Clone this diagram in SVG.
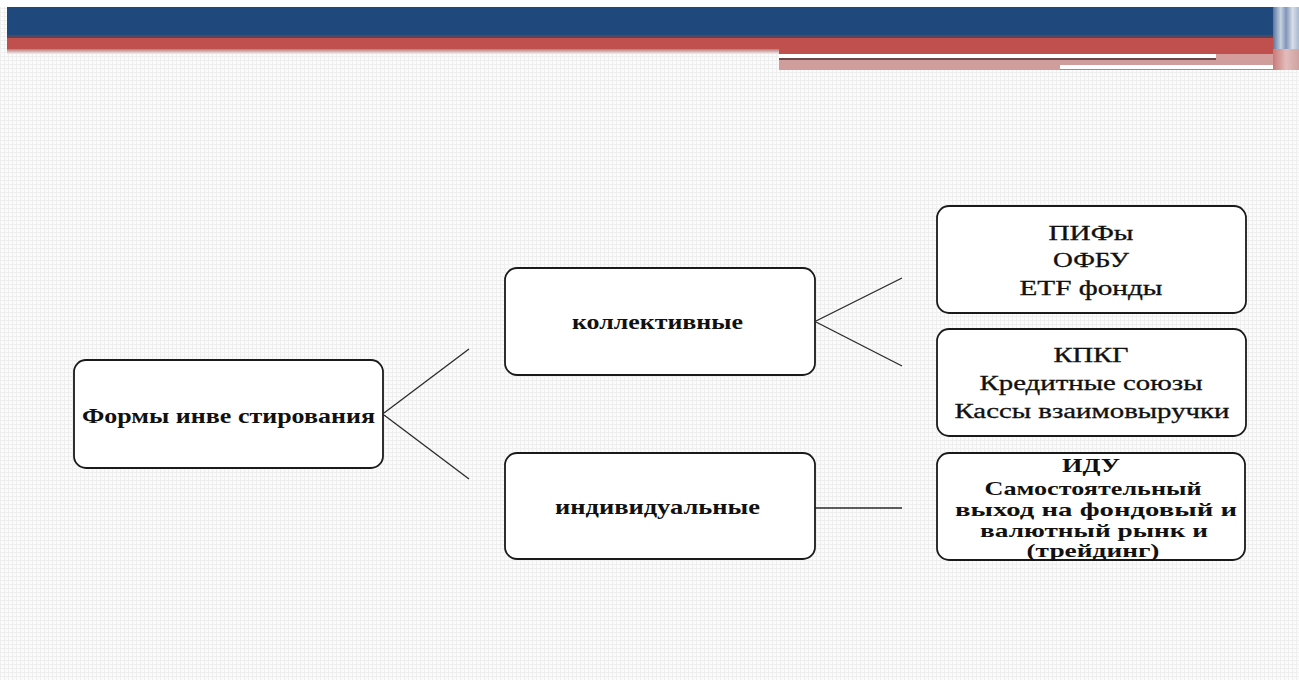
<svg xmlns="http://www.w3.org/2000/svg" width="1299" height="680" viewBox="0 0 1299 680">
<defs>
<pattern id="grid" width="4" height="4" patternUnits="userSpaceOnUse">
<rect width="4" height="4" fill="#fbfbfb"/>
<path d="M0 0.5H4M0.5 0V4" stroke="#efefef" stroke-width="1"/>
</pattern>
<linearGradient id="fade" x1="0" y1="0" x2="0" y2="1">
<stop offset="0" stop-color="#b77a7a"/>
<stop offset="1" stop-color="#f4eeee"/>
</linearGradient>
<linearGradient id="edge" x1="0" y1="0" x2="1" y2="0">
<stop offset="0" stop-color="#5a76a0"/>
<stop offset="0.3" stop-color="#c8d2e2"/>
<stop offset="0.5" stop-color="#7f95b8"/>
<stop offset="0.75" stop-color="#d6dde8"/>
<stop offset="1" stop-color="#a9b8cf"/>
</linearGradient>
<linearGradient id="edgeR" x1="0" y1="0" x2="1" y2="0">
<stop offset="0" stop-color="#c77a78"/>
<stop offset="0.5" stop-color="#e2bcbb"/>
<stop offset="1" stop-color="#cfa2a1"/>
</linearGradient>
</defs>
<style>
.box{fill:#ffffff;stroke:#1a1a1a;stroke-width:1.8}
.conn{stroke:#2a2a2a;stroke-width:1.3;fill:none}
.t{font-family:"Liberation Serif","Times New Roman",serif;fill:#111;text-anchor:middle}
.b{font-weight:bold;font-size:21px}
.r{font-size:20px;stroke:#111;stroke-width:0.3}
.s{font-weight:bold;font-size:19px}
</style>
<rect width="1299" height="680" fill="url(#grid)"/>
<g id="header">
<rect x="0" y="0" width="1299" height="7" fill="#ffffff"/>
<rect x="7" y="7" width="1266" height="29" fill="#1f497d"/>
<rect x="7" y="35" width="1266" height="3" fill="#5a4458"/>
<rect x="7" y="38" width="1266" height="11" fill="#c0504d"/>
<rect x="7" y="49" width="772" height="5" fill="url(#fade)"/>
<rect x="779" y="49" width="494" height="5" fill="#c0504d"/>
<rect x="779" y="54" width="437" height="4" fill="#ffffff"/>
<rect x="779" y="58" width="437" height="2" fill="#6e4848"/>
<rect x="779" y="60" width="510" height="10" fill="#cf9d9c"/>
<rect x="1216" y="54" width="57" height="6" fill="#d59e9d"/>
<rect x="1060" y="65" width="227" height="4" fill="#ffffff"/>
<rect x="1060" y="69" width="227" height="1" fill="#a08c8c"/>
<rect x="1273" y="7" width="26" height="42" fill="url(#edge)"/>
<rect x="1273" y="49" width="26" height="21" fill="url(#edgeR)"/>
</g>
<g id="connectors">
<line class="conn" x1="384" y1="413" x2="469" y2="349"/>
<line class="conn" x1="384" y1="415" x2="469" y2="479"/>
<line class="conn" x1="816" y1="321" x2="902" y2="278"/>
<line class="conn" x1="816" y1="322" x2="902" y2="366"/>
<line class="conn" x1="815" y1="508" x2="902" y2="508"/>
</g>
<g id="node-forms">
<rect class="box" x="74" y="360" width="309" height="108" rx="12"/>
<text class="t b" x="228.5" y="423" textLength="293" lengthAdjust="spacingAndGlyphs">Формы инве стирования</text>
</g>
<g id="node-collective">
<rect class="box" x="505" y="268" width="310" height="107" rx="12"/>
<text class="t b" x="657.5" y="329" textLength="171" lengthAdjust="spacingAndGlyphs">коллективные</text>
</g>
<g id="node-individual">
<rect class="box" x="505" y="453" width="310" height="106" rx="12"/>
<text class="t b" x="657.5" y="514" textLength="205" lengthAdjust="spacingAndGlyphs">индивидуальные</text>
</g>
<g id="node-funds">
<rect class="box" x="937" y="206" width="309" height="107" rx="12"/>
<text class="t r" x="1091" y="240" textLength="85" lengthAdjust="spacingAndGlyphs">ПИФы</text>
<text class="t r" x="1091" y="267" textLength="76" lengthAdjust="spacingAndGlyphs">ОФБУ</text>
<text class="t r" x="1091" y="295" textLength="143" lengthAdjust="spacingAndGlyphs">ETF фонды</text>
</g>
<g id="node-credit">
<rect class="box" x="937" y="329" width="309" height="107" rx="12"/>
<text class="t r" x="1091" y="362" textLength="75" lengthAdjust="spacingAndGlyphs">КПКГ</text>
<text class="t r" x="1091" y="390" textLength="223" lengthAdjust="spacingAndGlyphs">Кредитные союзы</text>
<text class="t r" x="1092" y="418" textLength="275" lengthAdjust="spacingAndGlyphs">Кассы взаимовыручки</text>
</g>
<g id="node-idu">
<rect class="box" x="937" y="453" width="308" height="107" rx="12"/>
<text class="t s" x="1091" y="472" textLength="58" lengthAdjust="spacingAndGlyphs">ИДУ</text>
<text class="t s" x="1093" y="495" textLength="217" lengthAdjust="spacingAndGlyphs">Самостоятельный</text>
<text class="t s" x="1096" y="516" textLength="282" lengthAdjust="spacingAndGlyphs">выход на фондовый и</text>
<text class="t s" x="1094" y="537" textLength="228" lengthAdjust="spacingAndGlyphs">валютный рынк и</text>
<text class="t s" x="1093" y="557" textLength="133" lengthAdjust="spacingAndGlyphs">(трейдинг)</text>
</g>
</svg>
